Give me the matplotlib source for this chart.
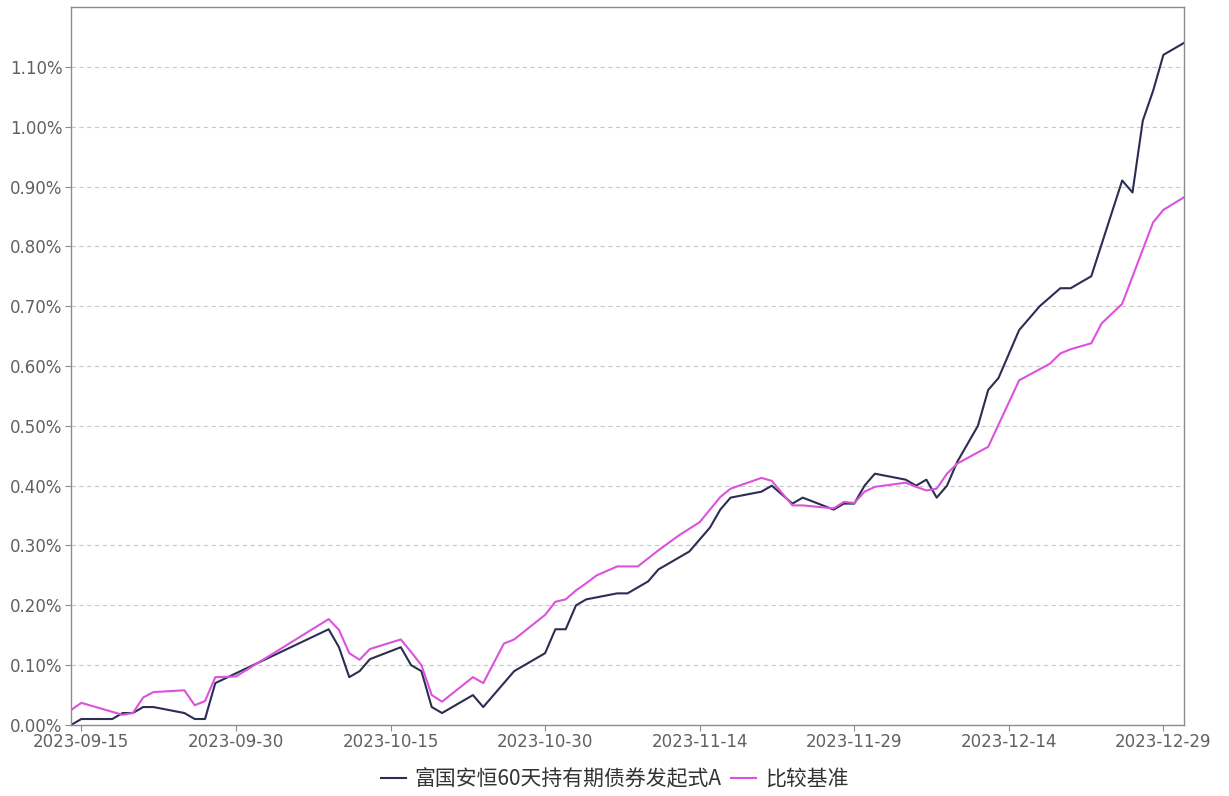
import matplotlib
matplotlib.use("Agg")
import matplotlib.pyplot as plt
import matplotlib.dates as mdates
import pandas as pd

plt.rcParams['font.family'] = ['Noto Sans CJK SC', 'DejaVu Sans']

fund_name = "富国安恒60天持有期债券发起式A"
bench_name = "比较基准"

# fund cumulative return (%)
fund_dates = ["2023-09-14", "2023-09-15", "2023-09-18", "2023-09-19", "2023-09-20",
              "2023-09-21", "2023-09-22", "2023-09-25", "2023-09-26", "2023-09-27",
              "2023-09-28", "2023-10-09", "2023-10-10", "2023-10-11", "2023-10-12",
              "2023-10-13", "2023-10-16", "2023-10-17", "2023-10-18", "2023-10-19",
              "2023-10-20", "2023-10-23", "2023-10-24", "2023-10-25", "2023-10-26",
              "2023-10-27", "2023-10-30", "2023-10-31", "2023-11-01", "2023-11-02",
              "2023-11-03", "2023-11-06", "2023-11-07", "2023-11-08", "2023-11-09",
              "2023-11-10", "2023-11-11", "2023-11-13", "2023-11-15", "2023-11-16",
              "2023-11-17", "2023-11-20", "2023-11-21", "2023-11-23", "2023-11-24",
              "2023-11-27", "2023-11-28", "2023-11-29", "2023-11-30", "2023-12-01",
              "2023-12-04", "2023-12-05", "2023-12-06", "2023-12-07", "2023-12-08",
              "2023-12-09", "2023-12-11", "2023-12-12", "2023-12-13", "2023-12-15",
              "2023-12-17", "2023-12-19", "2023-12-20", "2023-12-22", "2023-12-25",
              "2023-12-26", "2023-12-27", "2023-12-28", "2023-12-29", "2023-12-31"]
fund_values = [0.00, 0.01, 0.01, 0.02, 0.02,
               0.03, 0.03, 0.02, 0.01, 0.01,
               0.07, 0.16, 0.13, 0.08, 0.09,
               0.11, 0.13, 0.10, 0.09, 0.03,
               0.02, 0.05, 0.03, 0.05, 0.07,
               0.09, 0.12, 0.16, 0.16, 0.20,
               0.21, 0.22, 0.22, 0.23, 0.24,
               0.26, 0.27, 0.29, 0.33, 0.36,
               0.38, 0.39, 0.40, 0.37, 0.38,
               0.36, 0.37, 0.37, 0.40, 0.42,
               0.41, 0.40, 0.41, 0.38, 0.40,
               0.44, 0.50, 0.56, 0.58, 0.66,
               0.70, 0.73, 0.73, 0.75, 0.91,
               0.89, 1.01, 1.06, 1.12, 1.14]

# benchmark cumulative return (%)
bench_dates = ["2023-09-14", "2023-09-15", "2023-09-18", "2023-09-19", "2023-09-20",
               "2023-09-21", "2023-09-22", "2023-09-25", "2023-09-26", "2023-09-27",
               "2023-09-28", "2023-09-30", "2023-10-09", "2023-10-10", "2023-10-11",
               "2023-10-12", "2023-10-13", "2023-10-16", "2023-10-17", "2023-10-18",
               "2023-10-19", "2023-10-20", "2023-10-23", "2023-10-24", "2023-10-26",
               "2023-10-27", "2023-10-30", "2023-10-31", "2023-11-01", "2023-11-02",
               "2023-11-03", "2023-11-04", "2023-11-06", "2023-11-08", "2023-11-10",
               "2023-11-12", "2023-11-14", "2023-11-16", "2023-11-17", "2023-11-20",
               "2023-11-21", "2023-11-23", "2023-11-24", "2023-11-27", "2023-11-28",
               "2023-11-29", "2023-11-30", "2023-12-01", "2023-12-04", "2023-12-05",
               "2023-12-06", "2023-12-07", "2023-12-08", "2023-12-09", "2023-12-12",
               "2023-12-15", "2023-12-18", "2023-12-19", "2023-12-20", "2023-12-22",
               "2023-12-23", "2023-12-25", "2023-12-28", "2023-12-29", "2023-12-31"]
bench_values = [0.025, 0.037, 0.022, 0.017, 0.020,
                0.046, 0.055, 0.058, 0.033, 0.040,
                0.080, 0.081, 0.177, 0.159, 0.120,
                0.109, 0.127, 0.143, 0.122, 0.100,
                0.050, 0.039, 0.080, 0.070, 0.136,
                0.143, 0.184, 0.206, 0.210, 0.225,
                0.237, 0.250, 0.265, 0.265, 0.292,
                0.317, 0.339, 0.381, 0.395, 0.413,
                0.408, 0.367, 0.367, 0.362, 0.373,
                0.371, 0.390, 0.398, 0.405, 0.398,
                0.392, 0.395, 0.420, 0.437, 0.465,
                0.576, 0.604, 0.621, 0.628, 0.638,
                0.671, 0.704, 0.840, 0.861, 0.882]

tick_dates = ["2023-09-15", "2023-09-30", "2023-10-15", "2023-10-30",
              "2023-11-14", "2023-11-29", "2023-12-14", "2023-12-29"]
y_ticks = [0.0, 0.1, 0.2, 0.3, 0.4, 0.5, 0.6, 0.7, 0.8, 0.9, 1.0, 1.1]

fig = plt.figure(figsize=(12.29, 7.96), dpi=100)
ax = fig.add_axes([0.0578, 0.0892, 0.9056, 0.902])

ax.plot(pd.to_datetime(fund_dates), fund_values, color="#2b2d52", lw=1.5, label=fund_name)
ax.plot(pd.to_datetime(bench_dates), bench_values, color="#dc52dc", lw=1.5, label=bench_name)

ax.set_xlim(pd.Timestamp("2023-09-14"), pd.Timestamp("2023-12-31"))
ax.set_ylim(0, 1.2)
ax.set_xticks(pd.to_datetime(tick_dates))
ax.xaxis.set_major_formatter(mdates.DateFormatter("%Y-%m-%d"))
ax.set_yticks(y_ticks)
ax.set_yticklabels(["%.2f%%" % v for v in y_ticks])

ax.grid(axis="y", color="#c8c8c8", linestyle=(0, (4, 3)), lw=0.8)
ax.set_axisbelow(True)
for s in ax.spines.values():
    s.set_color("#8c8c8c")
    s.set_linewidth(1.0)
ax.tick_params(axis="both", colors="#8c8c8c", labelcolor="#606060",
               labelsize=12, length=4, pad=2)
for lab in ax.get_xticklabels() + ax.get_yticklabels():
    lab.set_family("DejaVu Sans")

fig.legend(loc="lower center", bbox_to_anchor=(0.5, -0.016), ncol=2, frameon=False,
           fontsize=15, handlelength=1.2, handletextpad=0.4, columnspacing=0.5,
           labelcolor="#333333")

fig.savefig("out.png", dpi=100)
